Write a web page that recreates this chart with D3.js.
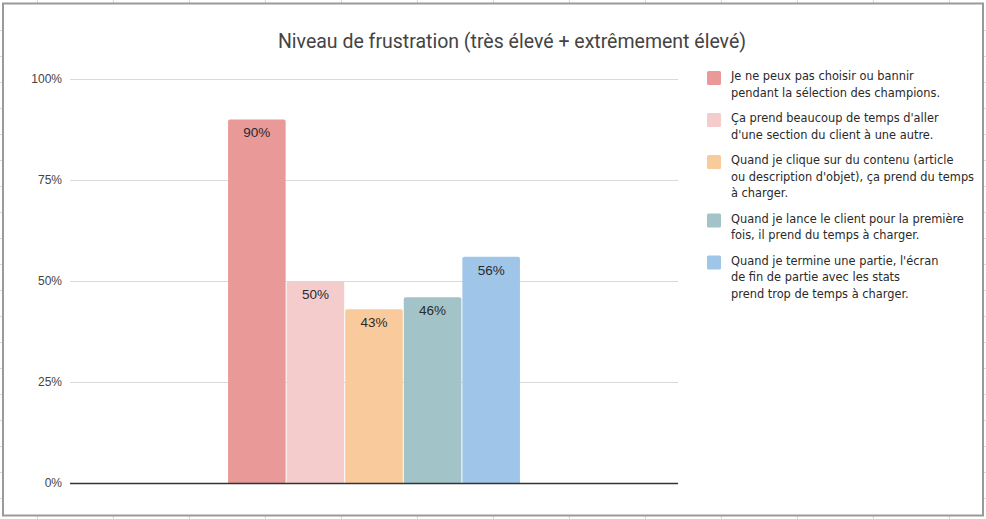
<!DOCTYPE html>
<html>
<head>
<meta charset="utf-8">
<script src="https://cdn.jsdelivr.net/npm/d3@7"></script>
<style>
  html, body { margin: 0; padding: 0; background: #fff; }
  svg { display: block; }
</style>
</head>
<body>
<svg id="chart" width="986" height="519"></svg>
<script>
// ---- data ----
const title = "Niveau de frustration (très élevé + extrêmement élevé)";
const categories = [""];
const seriesNames = [
  ["Je ne peux pas choisir ou bannir", "pendant la sélection des champions."],
  ["Ça prend beaucoup de temps d'aller", "d'une section du client à une autre."],
  ["Quand je clique sur du contenu (article", "ou description d'objet), ça prend du temps", "à charger."],
  ["Quand je lance le client pour la première", "fois, il prend du temps à charger."],
  ["Quand je termine une partie, l'écran", "de fin de partie avec les stats", "prend trop de temps à charger."]
];
const seriesValues = [0.90, 0.50, 0.43, 0.46, 0.56];
const seriesColors = ["#ea9999", "#f4cccc", "#f9cb9c", "#a2c4c9", "#9fc5e8"];
const yTicks = [0, 0.25, 0.5, 0.75, 1.0];

// ---- layout ----
const W = 986, H = 519;
const plot = { left: 70, right: 678, top: 79, bottom: 483 };
const svg = d3.select("#chart");

// spreadsheet background ticks outside the frame
const bg = svg.append("g").attr("stroke", "#d9d9d9").attr("stroke-width", 1);
d3.range(37, 986, 76).forEach(x => {
  bg.append("line").attr("x1", x + 0.5).attr("x2", x + 0.5).attr("y1", 0).attr("y2", 3);
  bg.append("line").attr("x1", x + 0.5).attr("x2", x + 0.5).attr("y1", 516).attr("y2", 519);
});
d3.range(30, 519, 26).forEach(y => {
  bg.append("line").attr("x1", 0).attr("x2", 2).attr("y1", y + 0.5).attr("y2", y + 0.5);
  bg.append("line").attr("x1", 984).attr("x2", 986).attr("y1", y + 0.5).attr("y2", y + 0.5);
});

// frame
svg.append("rect").attr("x", 3).attr("y", 3.5).attr("width", 980).attr("height", 512)
  .attr("fill", "#fff").attr("stroke", "#9a9a9a").attr("stroke-width", 2);

// title
svg.append("text").attr("x", 512).attr("y", 48).attr("text-anchor", "middle")
  .attr("font-family", "Roboto, 'Liberation Sans', sans-serif").attr("font-size", 19.5)
  .attr("fill", "#444").text(title);

// scales
const y = d3.scaleLinear().domain([0, 1]).range([plot.bottom, plot.top]);
const x0 = d3.scaleBand().domain(categories).range([plot.left, plot.right]).paddingInner(0).paddingOuter(0.538);
const x1 = d3.scaleBand().domain(d3.range(seriesValues.length)).range([0, x0.bandwidth()]).padding(0);

// gridlines + y axis
const yAxis = d3.axisLeft(y).tickValues(yTicks).tickFormat(d3.format(".0%"))
  .tickSize(-(plot.right - plot.left)).tickPadding(8);
const gy = svg.append("g").attr("transform", `translate(${plot.left},0)`).call(yAxis);
gy.select(".domain").remove();
gy.selectAll(".tick line").attr("stroke", "#d9d9d9").attr("stroke-width", 1);
gy.selectAll(".tick text").attr("font-family", "'Liberation Sans', Arial, sans-serif")
  .attr("font-size", 12).attr("fill", "#444");

// bars
const gBars = svg.append("g").attr("transform", `translate(${x0(categories[0])},0)`);
gBars.selectAll("path.bar").data(seriesValues).join("path")
  .attr("class", "bar")
  .attr("fill", (d, i) => seriesColors[i])
  .attr("d", (d, i) => {
    const bx = x1(i) + 0.5, bw = x1.bandwidth() - 1, top = y(d), bot = y(0), r = 2;
    return `M${bx},${bot}V${top + r}Q${bx},${top} ${bx + r},${top}H${bx + bw - r}Q${bx + bw},${top} ${bx + bw},${top + r}V${bot}Z`;
  });

// bar labels
gBars.selectAll("text.lbl").data(seriesValues).join("text")
  .attr("class", "lbl")
  .attr("x", (d, i) => x1(i) + x1.bandwidth() / 2)
  .attr("y", d => y(d) + 18)
  .attr("text-anchor", "middle")
  .attr("font-family", "'Liberation Sans', Arial, sans-serif").attr("font-size", 13.5)
  .attr("fill", "#2a2a2a")
  .text(d => d3.format(".0%")(d));

// baseline
svg.append("line").attr("x1", plot.left).attr("x2", plot.right)
  .attr("y1", y(0) + 0.5).attr("y2", y(0) + 0.5).attr("stroke", "#333").attr("stroke-width", 1.5);

// legend
const lg = svg.append("g");
const lineH = 16.5, gap = 9;
let cy = 76;
seriesNames.forEach((lines, i) => {
  const g = lg.append("g");
  g.append("rect").attr("x", 707).attr("y", cy - 5).attr("width", 14).attr("height", 14)
    .attr("rx", 1.5).attr("fill", seriesColors[i]);
  const t = g.append("text").attr("font-family", "'DejaVu Sans', Verdana, sans-serif")
    .attr("font-size", 11.4).attr("fill", "#2a2a2a");
  lines.forEach((ln, j) => {
    t.append("tspan").attr("x", 731).attr("y", cy + 4 + j * lineH).text(ln);
  });
  cy += lines.length * lineH + gap;
});
</script>
</body>
</html>
